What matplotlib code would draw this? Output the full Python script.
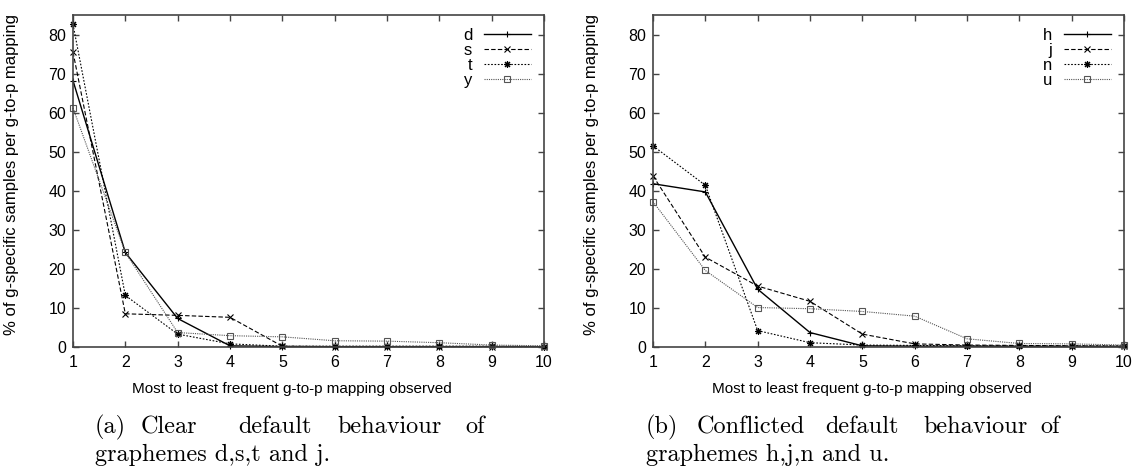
import matplotlib

matplotlib.use('Agg')
import matplotlib.pyplot as plt

plt.rcParams['font.family'] = ['Liberation Sans', 'DejaVu Sans']

ranks = [1, 2, 3, 4, 5, 6, 7, 8, 9, 10]

# (a) graphemes d, s, t, y
d_vals = [68.2, 24.2, 7.3, 0.3, 0.1, 0.1, 0.1, 0.1, 0.1, 0.1]
s_vals = [75.5, 8.5, 8.1, 7.6, 0.2, 0.1, 0.1, 0.1, 0.1, 0.1]
t_vals = [82.6, 13.2, 3.3, 0.8, 0.2, 0.2, 0.2, 0.2, 0.2, 0.1]
y_vals = [61.2, 24.2, 3.7, 2.9, 2.6, 1.6, 1.5, 1.1, 0.5, 0.3]

# (b) graphemes h, j, n, u
h_vals = [41.8, 39.7, 14.8, 3.7, 0.3, 0.2, 0.2, 0.1, 0.1, 0.1]
j_vals = [43.8, 23.0, 15.6, 11.7, 3.3, 0.8, 0.5, 0.4, 0.3, 0.2]
n_vals = [51.5, 41.4, 4.2, 1.1, 0.5, 0.4, 0.3, 0.3, 0.3, 0.3]
u_vals = [37.2, 19.6, 10.1, 9.8, 9.1, 7.9, 2.1, 0.9, 0.8, 0.5]

left_labels = ['d', 's', 't', 'y']
right_labels = ['h', 'j', 'n', 'u']

styles = [
    dict(color='black', lw=1.0, ls='-', marker='+', ms=5),
    dict(color='black', lw=0.8, ls=(0, (4, 2)), marker='x', ms=4.5),
    dict(color='black', lw=0.8, ls=(0, (1.5, 1.5)), marker=(8, 2, 0), ms=5),
    dict(color='#555555', lw=0.8, ls=(0, (1, 1)), marker='s', ms=4.5, mfc='none'),
]

fig = plt.figure(figsize=(11.38, 4.69), dpi=100)
W, H = 1138.0, 469.0


def make_axes(left_px, series, labels):
    ax = fig.add_axes([left_px / W, (H - 347) / H, 471 / W, 332 / H])
    for vals, lab, st in zip(series, labels, styles):
        ax.plot(ranks, vals, label=lab, mew=0.8, clip_on=False, **st)
    ax.set_xlim(1, 10)
    ax.set_ylim(0, 85)
    ax.set_xticks(ranks)
    ax.set_yticks(range(0, 81, 10))
    ax.tick_params(direction='in', top=True, right=True, length=4, width=1,
                   color='#444444', labelsize=11.5, pad=5)
    ax.tick_params(axis='x', pad=6)
    for sp in ax.spines.values():
        sp.set_color('#444444')
        sp.set_linewidth(1.2)
    ax.set_xlabel('Most to least frequent g-to-p mapping observed', fontsize=11)
    ax.set_ylabel('% of g-specific samples per g-to-p mapping', fontsize=12)
    ax.xaxis.set_label_coords(0.465, -0.105)
    ax.yaxis.set_label_coords(-0.115, 0.52)
    ax.legend(loc='upper right', frameon=False, markerfirst=False, fontsize=12,
              handlelength=2.8, handletextpad=0.7, labelspacing=0.0,
              borderaxespad=0.5, borderpad=0.3)
    return ax


make_axes(73, [d_vals, s_vals, t_vals, y_vals], left_labels)
make_axes(653, [h_vals, j_vals, n_vals, u_vals], right_labels)

# captions (justified first line, word by word)
cap_font = dict(family=['cmr10', 'DejaVu Serif'], fontsize=17.5, va='baseline')
cap_a = [('(a)', 95), ('Clear', 141), ('default', 238), ('behaviour', 337), ('of', 465)]
cap_b = [('(b)', 646), ('Conflicted', 697), ('default', 825), ('behaviour', 923), ('of', 1040)]
for words in (cap_a, cap_b):
    for w, xp in words:
        fig.text(xp / W, 1 - 433 / H, w, **cap_font)
fig.text(95 / W, 1 - 461 / H, 'graphemes d,s,t and j.', **cap_font)
fig.text(646 / W, 1 - 461 / H, 'graphemes h,j,n and u.', **cap_font)

fig.savefig('out.png', dpi=100)
